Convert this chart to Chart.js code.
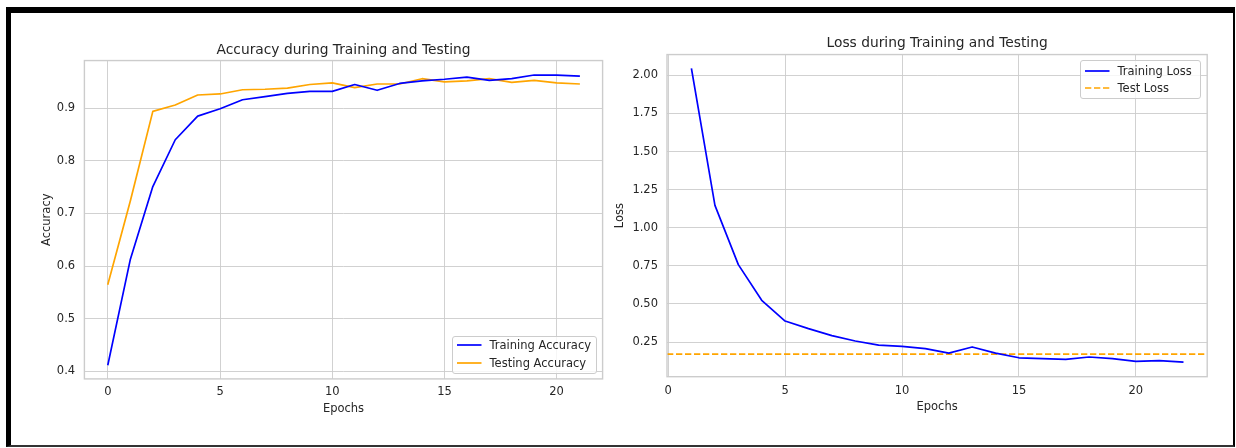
<!DOCTYPE html>
<html>
<head>
<meta charset="utf-8">
<script src="https://cdn.jsdelivr.net/npm/chart.js@4.4.0/dist/chart.umd.min.js"></script>
<style>
html,body{margin:0;padding:0;background:#fff;}
body{width:1236px;height:448px;position:relative;overflow:hidden;font-family:"DejaVu Sans",sans-serif;}
#frame{position:absolute;left:6px;top:7px;width:1229px;height:440px;box-sizing:border-box;border-top:6px solid #000;border-left:5px solid #000;border-right:2px solid #000;border-bottom:2px solid #333;}
canvas{position:absolute;top:0;}
.legend{position:absolute;box-sizing:border-box;border:1px solid #cccccc;border-radius:3px;background:rgba(255,255,255,0.8);}
.legend svg{position:absolute;overflow:visible;}
.legend span{position:absolute;white-space:nowrap;font-size:11.5px;line-height:14px;color:#262626;transform:translateY(-50%);}
</style>
</head>
<body>
<div id="frame"></div>
<canvas id="acc" width="620" height="448" style="left:0px"></canvas>
<canvas id="loss" width="626" height="448" style="left:610px"></canvas>
<div id="accLegend" class="legend" style="left:452px;top:335.5px;width:145px;height:38px"></div>
<div id="lossLegend" class="legend" style="left:1080px;top:60px;width:121px;height:39px"></div>
<script>
// ---------------- data ----------------
const accEpochs = [0,1,2,3,4,5,6,7,8,9,10,11,12,13,14,15,16,17,18,19,20,21];
const trainAcc  = [0.413,0.613,0.751,0.840,0.885,0.899,0.916,0.922,0.928,0.932,0.932,0.945,0.934,0.947,0.952,0.955,0.959,0.953,0.956,0.963,0.963,0.961];
const testAcc   = [0.566,0.724,0.894,0.906,0.925,0.927,0.935,0.936,0.938,0.945,0.948,0.939,0.946,0.946,0.956,0.950,0.952,0.956,0.949,0.953,0.948,0.946];

const lossEpochs = [1,2,3,4,5,6,7,8,9,10,11,12,13,14,15,16,17,18,19,20,21,22];
const trainLoss  = [2.040,1.147,0.758,0.524,0.388,0.338,0.292,0.257,0.230,0.222,0.207,0.178,0.218,0.178,0.147,0.141,0.137,0.152,0.141,0.123,0.128,0.119];
const testLoss   = 0.171;

const accXTicks = [0,5,10,15,20];
const accXTickLabels = ['0','5','10','15','20'];
const accYTicks = [0.4,0.5,0.6,0.7,0.8,0.9];
const accYTickLabels = ['0.4','0.5','0.6','0.7','0.8','0.9'];
const lossXTicks = [0,5,10,15,20];
const lossXTickLabels = ['0','5','10','15','20'];
const lossYTicks = [0.25,0.5,0.75,1.0,1.25,1.5,1.75,2.0];
const lossYTickLabels = ['0.25','0.50','0.75','1.00','1.25','1.50','1.75','2.00'];

// ---------------- helpers ----------------
const FAM = '"DejaVu Sans", sans-serif';
const TXT = '#262626';
const GRID = '#cccccc';
const BLUE = '#0000ff';
const ORANGE = '#ffa500';
const FS = 11.5, TFS = 13.8;

function pad5(lo, hi){ const r = hi - lo; return [lo - 0.05*r, hi + 0.05*r]; }

const spines = {
  id:'spines',
  afterDatasetsDraw(chart){
    const {ctx, chartArea:a} = chart;
    ctx.save();
    ctx.strokeStyle = GRID; ctx.lineWidth = 1.4;
    ctx.strokeRect(a.left, a.top, a.right - a.left, a.bottom - a.top);
    ctx.restore();
  }
};

function axisX(min, max, ticks, labels, height, tickPad, titlePadBottom){
  return {
    type:'linear', min, max,
    afterBuildTicks: s => { s.ticks = ticks.map(v => ({value:v})); },
    afterFit: s => { s.height = height; },
    ticks:{ autoSkip:false, maxRotation:0, padding:tickPad, color:TXT, font:{family:FAM, size:FS},
            callback:(v,i) => labels[i] },
    grid:{ color:GRID, lineWidth:0.9, drawTicks:false },
    border:{ display:false },
    title:{ display:true, text:'Epochs', color:TXT, font:{family:FAM, size:FS}, padding:{top:0, bottom:titlePadBottom} }
  };
}
function axisY(min, max, ticks, labels, width, tickPad, title, titlePadTop){
  return {
    min, max,
    afterBuildTicks: s => { s.ticks = ticks.map(v => ({value:v})); },
    afterFit: s => { s.width = width; },
    ticks:{ autoSkip:false, padding:tickPad, color:TXT, font:{family:FAM, size:FS},
            callback:(v,i) => labels[i] },
    grid:{ color:GRID, lineWidth:0.9, drawTicks:false },
    border:{ display:false },
    title:{ display:true, text:title, color:TXT, font:{family:FAM, size:FS}, padding:{top:titlePadTop, bottom:0} }
  };
}
function lineDs(label, xs, ys, color, dash){
  return {
    label, data: xs.map((x,i) => ({x, y: ys[i]})),
    borderColor: color, backgroundColor: color, borderWidth: 1.7,
    pointRadius: 0, tension: 0, fill: false,
    borderDash: dash || [], borderJoinStyle:'round', borderCapStyle: dash ? 'butt' : 'square'
  };
}

// ---------------- accuracy chart ----------------
const accX = pad5(Math.min(...accEpochs), Math.max(...accEpochs));
const accY = pad5(Math.min(...trainAcc, ...testAcc), Math.max(...trainAcc, ...testAcc));

const accChart = new Chart(document.getElementById('acc'), {
  type:'line',
  data:{ datasets:[
    lineDs('Training Accuracy', accEpochs, trainAcc, BLUE),
    lineDs('Testing Accuracy', accEpochs, testAcc, ORANGE)
  ]},
  options:{
    responsive:false, animation:false, devicePixelRatio:1,
    layout:{ padding:{ left:0, top:0, right:17.4, bottom:0 } },
    plugins:{
      legend:{ display:false }, tooltip:{ enabled:false },
      title:{ display:true, fullSize:false, text:'Accuracy during Training and Testing', color:TXT,
              font:{family:FAM, size:TFS, weight:'normal'}, padding:{top:41.7, bottom:2.3} }
    },
    scales:{
      x: axisX(accX[0], accX[1], accXTicks, accXTickLabels, 69.1, 6.5, 31.9),
      y: axisY(accY[0], accY[1], accYTicks, accYTickLabels, 84.4, 9.3, 'Accuracy', 39.8)
    }
  },
  plugins:[spines]
});

// ---------------- loss chart ----------------
const lossX = pad5(Math.min(...lossEpochs), Math.max(...lossEpochs));
const lossY = pad5(Math.min(...trainLoss, testLoss), Math.max(...trainLoss, testLoss));

const lossChart = new Chart(document.getElementById('loss'), {
  type:'line',
  data:{ datasets:[
    lineDs('Training Loss', lossEpochs, trainLoss, BLUE),
    lineDs('Test Loss', [lossX[0], lossX[1]], [testLoss, testLoss], ORANGE, [6.3, 2.7])
  ]},
  options:{
    responsive:false, animation:false, devicePixelRatio:1,
    layout:{ padding:{ left:0, top:0, right:28.8, bottom:0 } },
    plugins:{
      legend:{ display:false }, tooltip:{ enabled:false },
      title:{ display:true, fullSize:false, text:'Loss during Training and Testing', color:TXT,
              font:{family:FAM, size:TFS, weight:'normal'}, padding:{top:35.0, bottom:3.0} }
    },
    scales:{
      x: axisX(lossX[0], lossX[1], lossXTicks, lossXTickLabels, 71.3, 7.1, 34.4),
      y: axisY(lossY[0], lossY[1], lossYTicks, lossYTickLabels, 57, 9, 'Loss', 3.6)
    }
  },
  plugins:[spines]
});

// ---------------- HTML legends (matplotlib style) ----------------
function buildLegend(el, chart, rowOffsets){
  chart.data.datasets.forEach((ds, i) => {
    const y = rowOffsets[i];
    const svg = document.createElementNS('http://www.w3.org/2000/svg','svg');
    svg.setAttribute('width','26'); svg.setAttribute('height','4');
    svg.style.left = '3px'; svg.style.top = (y - 2) + 'px';
    const ln = document.createElementNS('http://www.w3.org/2000/svg','line');
    ln.setAttribute('x1','1'); ln.setAttribute('x2','25.5');
    ln.setAttribute('y1','2'); ln.setAttribute('y2','2');
    ln.setAttribute('stroke', ds.borderColor);
    ln.setAttribute('stroke-width', '1.7');
    if (ds.borderDash && ds.borderDash.length) ln.setAttribute('stroke-dasharray', ds.borderDash.join(' '));
    svg.appendChild(ln);
    el.appendChild(svg);
    const sp = document.createElement('span');
    sp.textContent = ds.label;
    sp.style.left = '36.5px'; sp.style.top = y + 'px';
    el.appendChild(sp);
  });
}
buildLegend(document.getElementById('accLegend'), accChart, [8.3, 26.3]);
buildLegend(document.getElementById('lossLegend'), lossChart, [9.5, 27.3]);
</script>
</body>
</html>
